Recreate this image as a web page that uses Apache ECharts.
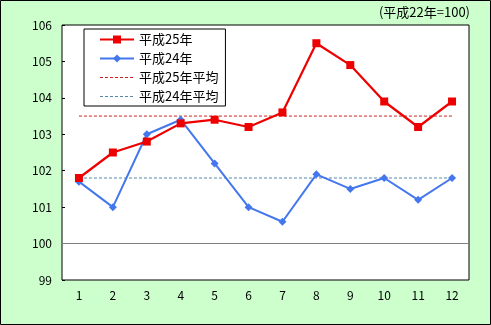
<!DOCTYPE html>
<html>
<head>
<meta charset="utf-8">
<script src="https://cdn.jsdelivr.net/npm/echarts@6/dist/echarts.min.js"></script>
<style>html,body{margin:0;padding:0;}#c{width:491px;height:325px;}</style>
</head>
<body>
<div id="c"></div>
<script>
const months = ['1','2','3','4','5','6','7','8','9','10','11','12'];
const h25 = [101.8, 102.5, 102.8, 103.3, 103.4, 103.2, 103.6, 105.5, 104.9, 103.9, 103.2, 103.9];
const h24 = [101.7, 101.0, 103.0, 103.4, 102.2, 101.0, 100.6, 101.9, 101.5, 101.8, 101.2, 101.8];
const avg25 = [103.5, 103.5, 103.5, 103.5, 103.5, 103.5, 103.5, 103.5, 103.5, 103.5, 103.5, 103.5];
const avg24 = [101.8, 101.8, 101.8, 101.8, 101.8, 101.8, 101.8, 101.8, 101.8, 101.8, 101.8, 101.8];
const baseLine = 100;
const yLabels = [99, 100, 101, 102, 103, 104, 105, 106];
const names = ['平成25年', '平成24年', '平成25年平均', '平成24年平均'];
const unitText = '(平成22年=100)';
const font = '"Noto Sans CJK JP", "Noto Sans", sans-serif';

const chart = echarts.init(document.getElementById('c'), null, {renderer: 'canvas'});
chart.setOption({
  backgroundColor: '#CCFFCC',
  animation: false,
  textStyle: {fontFamily: font},
  graphic: [
    {type: 'rect', shape: {x: 0.5, y: 0.5, width: 490, height: 324}, style: {fill: 'none', stroke: '#000', lineWidth: 1}, silent: true},
    {type: 'text', right: 21, top: 6, style: {text: unitText, fontSize: 13, fontFamily: font, fill: '#000'}}
  ],
  grid: {left: 62, right: 22, top: 25, bottom: 45, show: true, backgroundColor: '#fff', borderColor: '#000', borderWidth: 1},
  legend: {
    orient: 'vertical', left: 84, top: 29,
    padding: [4, 7, 3, 15],
    itemWidth: 34, itemHeight: 10, itemGap: 6,
    backgroundColor: '#fff', borderColor: '#000', borderWidth: 1,
    textStyle: {fontSize: 13, color: '#000', fontFamily: font},
    data: [
      {name: names[0]},
      {name: names[1]},
      {name: names[2], itemStyle: {opacity: 0}, lineStyle: {width: 1}},
      {name: names[3], itemStyle: {opacity: 0}, lineStyle: {width: 1}}
    ]
  },
  xAxis: {
    type: 'category', data: months, boundaryGap: true,
    axisLine: {show: false}, axisTick: {show: false},
    axisLabel: {color: '#000', fontSize: 12, margin: 9, fontFamily: font}
  },
  yAxis: {
    type: 'value', min: yLabels[0], max: yLabels[yLabels.length - 1], interval: 1,
    axisLine: {show: false},
    axisTick: {show: true, inside: true, length: 3, lineStyle: {color: '#000'}},
    splitLine: {show: false},
    axisLabel: {color: '#000', fontSize: 12, margin: 10, fontFamily: font}
  },
  series: [
    {
      name: names[0], type: 'line', data: h25, z: 5,
      symbol: 'rect', symbolSize: 8,
      lineStyle: {color: '#EE0000', width: 2.2},
      itemStyle: {color: '#EE0000'},
      markLine: {
        silent: true, symbol: 'none', label: {show: false},
        lineStyle: {color: '#808080', type: 'solid', width: 1},
        data: [{yAxis: baseLine}]
      }
    },
    {
      name: names[1], type: 'line', data: h24, z: 4,
      symbol: 'diamond', symbolSize: 8,
      lineStyle: {color: '#4477EE', width: 2},
      itemStyle: {color: '#4477EE'}
    },
    {
      name: names[2], type: 'line', data: avg25, z: 3,
      symbol: 'none',
      lineStyle: {color: '#CC2222', width: 1, type: [3, 2]},
      itemStyle: {color: '#CC2222'}
    },
    {
      name: names[3], type: 'line', data: avg24, z: 3,
      symbol: 'none',
      lineStyle: {color: '#5588AA', width: 1, type: [3, 2]},
      itemStyle: {color: '#5588AA'}
    }
  ]
});
</script>
</body>
</html>
